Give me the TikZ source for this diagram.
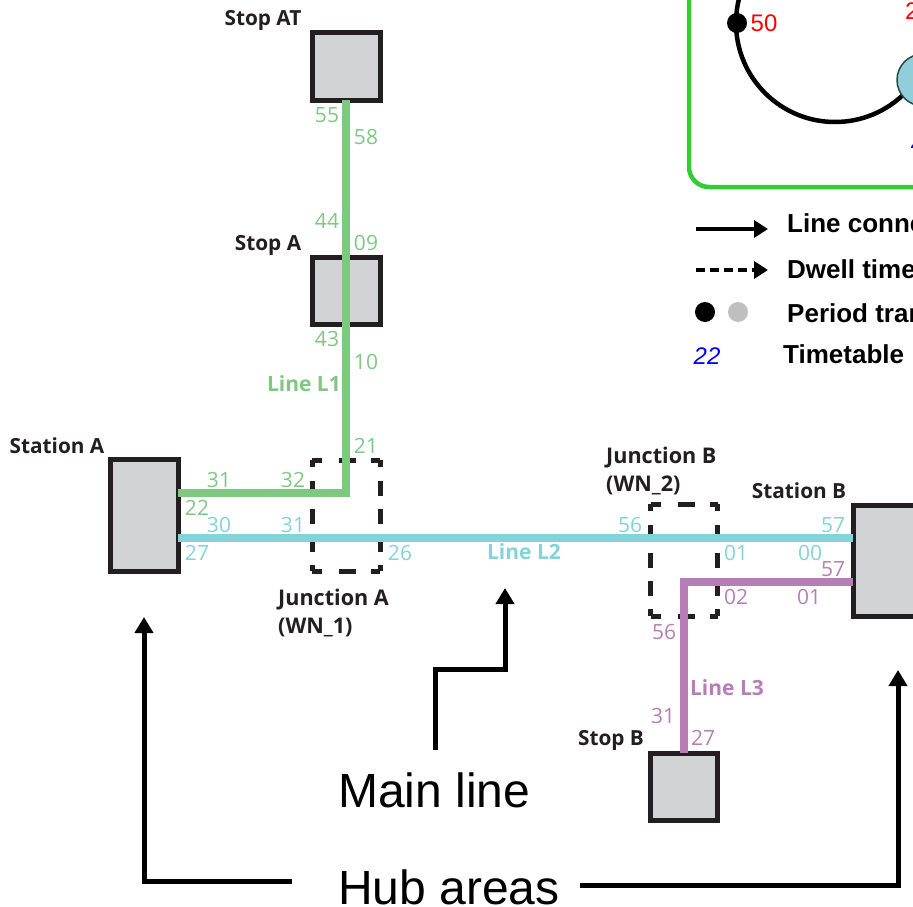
\documentclass[tikz,border=0pt]{standalone}
\usepackage{fontspec}
\setmainfont{Liberation Sans}
\newfontfamily\myr{Open Sans}
\usetikzlibrary{arrows.meta}
\definecolor{cgreen}{HTML}{7FC882}
\definecolor{cblue}{HTML}{82D3DA}
\definecolor{cpurple}{HTML}{B87DB7}
\definecolor{cbox}{HTML}{D1D3D4}
\definecolor{cedge}{HTML}{231F20}
\definecolor{cframe}{HTML}{33CC33}
\definecolor{cdisc}{HTML}{92CDDC}
\definecolor{cdiscedge}{HTML}{1F4E3D}
\tikzset{
  x=1pt,y=-1pt,
  hub/.style 2 args={draw=cedge,fill=cbox,line width=5pt,inner sep=0,outer sep=0,minimum width=#1,minimum height=#2},
  junc/.style 2 args={inner sep=0,outer sep=0,minimum width=#1,minimum height=#2},
  hside/.style={draw=cedge,line width=5pt,dash pattern=on 10pt off 17pt on 17pt off 15pt on 10pt off 20pt},
  vside/.style={draw=cedge,line width=5pt,dash pattern=on 7pt off 14pt on 15pt off 13pt on 15pt off 13pt on 15pt off 13pt on 8pt off 20pt},
  lbl/.style={font=\myr\fontsize{21}{21}\selectfont,inner sep=0,text=#1},
  nm/.style={font=\myr\bfseries\fontsize{20.8}{28}\selectfont,inner sep=0,text=cedge,align=left},
  nmj/.style={font=\myr\bfseries\fontsize{21.6}{28}\selectfont,inner sep=0,text=cedge,align=left},
  linelbl/.style={font=\myr\bfseries\fontsize{21}{21}\selectfont,inner sep=0,text=#1},
  track/.style={line width=8pt,draw=#1},
  callout/.style={line width=5pt,-{Triangle[length=16pt,width=18pt]}},
  big/.style={font=\fontsize{48}{50}\selectfont,inner sep=0},
  leg/.style={font=\bfseries\fontsize{26}{26}\selectfont,inner sep=0,anchor=base west},
  legarrow/.style={line width=4pt,-{Triangle[length=14pt,width=17pt]}},
}
\begin{document}
\begin{tikzpicture}
\useasboundingbox (0,0) rectangle (913,907);
\clip (0,0) rectangle (913,907);
% inset frame and circle
\draw[cframe,line width=4.5pt,rounded corners=20pt] (689,-40) -- (689,187) -- (960,187);
\node[circle,minimum size=198pt,inner sep=0,outer sep=0,draw=black,line width=4.5pt] (ring) at (835,23) {};
\node[circle,fill=black,minimum size=20pt,inner sep=0] (pt50) at (737,23) {};
\node[circle,fill=cdisc,draw=cdiscedge,line width=1.5pt,minimum size=52pt,inner sep=0] (disc) at (923,80) {};
\node[font=\fontsize{24}{24}\selectfont,text=red,inner sep=0] (t50) at (764,23) {50};
\node[font=\fontsize{24}{24}\selectfont,text=red,inner sep=0,anchor=base west] (t2) at (905,20) {2};
\node[font=\itshape\fontsize{24}{24}\selectfont,text=blue,inner sep=0,anchor=base west] (tb2) at (911,148) {2};
% legend
\coordinate (l1a) at (696,229); \coordinate (l1b) at (768,229);
\coordinate (l2a) at (696,270); \coordinate (l2b) at (768,270);
\draw[legarrow] (l1a) -- (l1b);
\draw[legarrow,dash pattern=on 9pt off 5pt] (l2a) -- (l2b);
\node[circle,fill=black,minimum size=20pt,inner sep=0] (dk) at (705,312) {};
\node[circle,fill=black!25,minimum size=20pt,inner sep=0] (gy) at (738,312) {};
\node[font=\itshape\fontsize{24}{24}\selectfont,text=blue,inner sep=0] (t22) at (707,356) {22};
\node[leg] (leg1) at (787,232) {Line conne};
\node[leg] (leg2) at (787,278) {Dwell time};
\node[leg] (leg3) at (787,322) {Period tran};
\node[leg] (leg4) at (783,363) {Timetable};
% boxes
\node[hub={68pt}{67pt}] (stopAT) at (346,66.5) {};
\node[hub={68pt}{67pt}] (stopA) at (346,290.5) {};
\node[hub={68pt}{112pt}] (stationA) at (144,515) {};
\node[hub={100pt}{111pt}] (stationB) at (903,560.5) {};
\node[hub={67pt}{67pt}] (stopB) at (684,786.5) {};
% junctions
\node[junc={68pt}{111pt}] (juncA) at (346,515.5) {};
\node[junc={67pt}{112pt}] (juncB) at (684,560) {};
\foreach \j in {juncA,juncB}{
  \draw[hside] (\j.north west) -- (\j.north east);
  \draw[hside] (\j.south west) -- (\j.south east);
  \draw[vside] (\j.north west) -- (\j.south west);
  \draw[vside] (\j.north east) -- (\j.south east);
}
% tracks
\coordinate (gk) at (346,493);
\coordinate (pk) at (684,582);
\draw[track=cgreen] (stopAT.south) -- (gk) -- (stationA.east |- gk);
\draw[track=cblue] (stationA.east |- 0,538) -- (stationB.west |- 0,538);
\draw[track=cpurple] (stationB.west |- pk) -- (pk) -- (stopB.north);
% callouts
\node[big,anchor=base west] (main) at (338,807) {Main line};
\node[big,anchor=base west] (hubs) at (338,904) {Hub areas};
\coordinate (m1) at (435,669); \coordinate (m2) at (505,669); \coordinate (m3) at (505,588);
\coordinate (h1) at (292,881); \coordinate (h2) at (144,881); \coordinate (h3) at (144,617);
\coordinate (r1) at (580,885); \coordinate (r2) at (898,885); \coordinate (r3) at (898,670);
\coordinate (m0) at (435,750);
\draw[callout] (m0) -- (m1) -- (m2) -- (m3);
\draw[callout] (h1) -- (h2) -- (h3);
\draw[callout] (r1) -- (r2) -- (r3);
% names
\node[nm] (nStopAT) at (263,20) {Stop AT};
\node[nm] (nStopA) at (268,245) {Stop A};
\node[nm] (nStationA) at (57,446) {Station A};
\node[nmj,anchor=north west] (nJuncA) at (278,589) {Junction A\\(WN\_1)};
\node[nmj,anchor=north west] (nJuncB) at (606,447) {Junction B\\(WN\_2)};
\node[nm] (nStationB) at (799,491) {Station B};
\node[nm] (nStopB) at (611,740) {Stop B};
\node[linelbl=cgreen,anchor=east] (L1) at (341,384) {Line L1};
\node[linelbl=cblue] (L2) at (524,552) {Line L2};
\node[linelbl=cpurple] (L3) at (727,688) {Line L3};
% green times
\node[lbl=cgreen] (g55) at (327,115) {55};
\node[lbl=cgreen] (g58) at (366,137) {58};
\node[lbl=cgreen] (g44) at (327,221) {44};
\node[lbl=cgreen] (g09) at (366,243) {09};
\node[lbl=cgreen] (g43) at (327,339) {43};
\node[lbl=cgreen] (g10) at (366,362) {10};
\node[lbl=cgreen] (g21) at (366,446) {21};
\node[lbl=cgreen] (g31) at (219,480) {31};
\node[lbl=cgreen] (g32) at (293,480) {32};
\node[lbl=cgreen] (g22) at (197,508) {22};
% blue times
\node[lbl=cblue] (b30) at (219,525) {30};
\node[lbl=cblue] (b31) at (293,525) {31};
\node[lbl=cblue] (b27) at (197,553) {27};
\node[lbl=cblue] (b26) at (400,553) {26};
\node[lbl=cblue] (b56) at (630,525) {56};
\node[lbl=cblue] (b57) at (833,525) {57};
\node[lbl=cblue] (b01) at (736,553) {01};
\node[lbl=cblue] (b00) at (810,553) {00};
% purple times
\node[lbl=cpurple] (p57) at (833,569) {57};
\node[lbl=cpurple] (p02) at (736,597) {02};
\node[lbl=cpurple] (p01) at (809,597) {01};
\node[lbl=cpurple] (p56) at (664,632) {56};
\node[lbl=cpurple] (p31) at (663,716) {31};
\node[lbl=cpurple] (p27) at (703,738) {27};
\end{tikzpicture}
\end{document}
